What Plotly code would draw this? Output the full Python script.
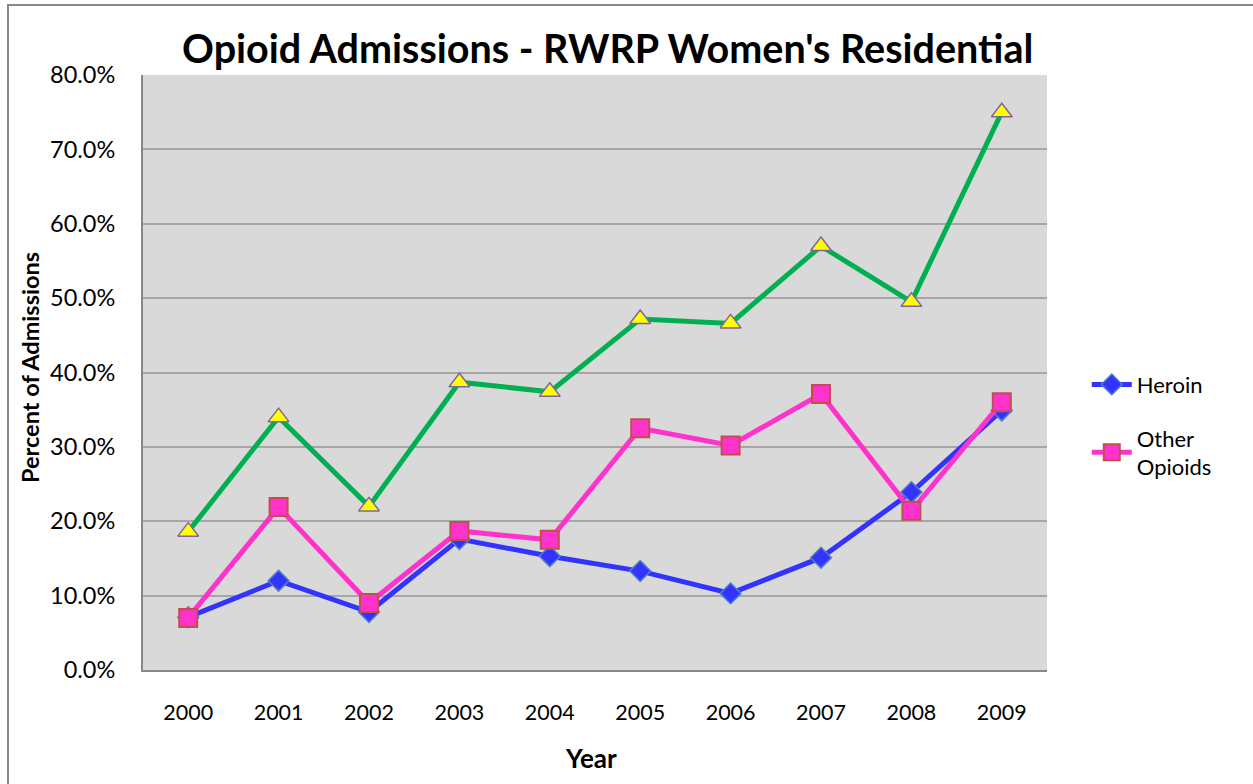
import plotly.graph_objects as go

years = ["2000", "2001", "2002", "2003", "2004", "2005", "2006", "2007", "2008", "2009"]
heroin = [0.071, 0.120, 0.078, 0.176, 0.153, 0.133, 0.103, 0.151, 0.239, 0.349]
other_opioids = [0.070, 0.219, 0.090, 0.187, 0.175, 0.325, 0.302, 0.371, 0.214, 0.360]
total_opioids = [0.186, 0.340, 0.220, 0.387, 0.374, 0.472, 0.466, 0.570, 0.495, 0.750]

FONT = "Lato"

fig = go.Figure()
fig.add_trace(go.Scatter(
    x=years, y=heroin, name="Heroin", mode="lines+markers", legendgroup="h",
    line=dict(color="#3333FF", width=5),
    marker=dict(symbol="diamond", size=16, color="#3333FF",
                line=dict(color="#4F81BD", width=1.5)),
))
fig.add_trace(go.Scatter(
    x=years, y=other_opioids, name="Other<br>Opioids", mode="lines+markers", legendgroup="o",
    line=dict(color="#FF33CC", width=5),
    marker=dict(symbol="square", size=18, color="#FF33CC",
                line=dict(color="#C0504D", width=2)),
))
fig.add_trace(go.Scatter(
    x=years, y=total_opioids, name="Total Opioids", mode="lines+markers",
    showlegend=False,
    line=dict(color="#00B050", width=5),
    marker=dict(symbol="triangle-up", size=18, color="#FFFF00",
                line=dict(color="#8064A2", width=1.5)),
))

fig.update_layout(
    width=1253, height=784,
    margin=dict(l=143, r=206, t=75, b=114),
    paper_bgcolor="white",
    plot_bgcolor="#D9D9D9",
    font=dict(family=FONT, size=22, color="black"),
    title=dict(text="<b>Opioid Admissions - RWRP Women's Residential</b>",
               x=0.485, xanchor="center", y=1 - 49 / 784, yanchor="middle",
               font=dict(family=FONT, size=39.5, color="black")),
    showlegend=True,
    legend=dict(x=1.044, xanchor="left", y=0.515, yanchor="top",
                bgcolor="rgba(0,0,0,0)", font=dict(size=22),
                tracegroupgap=22, itemwidth=40),
    xaxis=dict(range=[-0.5, 9.5], showgrid=False, showline=True,
               linecolor="#888888", linewidth=2,
               ticks="", tickfont=dict(size=21.5), ticklabelstandoff=22),
    yaxis=dict(range=[0, 0.8], dtick=0.1, tickformat=".1%",
               showgrid=True, gridcolor="#A6A6A6", gridwidth=2,
               showline=True, linecolor="#888888", linewidth=2,
               zeroline=False, ticks="", tickfont=dict(size=23.5),
               ticklabelstandoff=21),
    annotations=[
        dict(text="<b>Percent of Admissions</b>", xref="paper", yref="paper",
             x=(30 - 143) / 904, y=(670 - 368) / 595, textangle=-90,
             showarrow=False, font=dict(size=23.5), xanchor="center", yanchor="middle"),
        dict(text="<b>Year</b>", xref="paper", yref="paper",
             x=(591 - 143) / 904, y=(670 - 758) / 595,
             showarrow=False, font=dict(size=26), xanchor="center", yanchor="middle"),
    ],
    shapes=[
        dict(type="rect", xref="paper", yref="paper",
             x0=(8 - 143) / 904, y0=-0.5, x1=1.5, y1=(670 - 5) / 595,
             line=dict(color="#888888", width=2), fillcolor="rgba(0,0,0,0)",
             layer="below"),
    ],
)

fig.write_html("out.html", config={"displayModeBar": False},
               post_script="document.body.style.margin='0';")
